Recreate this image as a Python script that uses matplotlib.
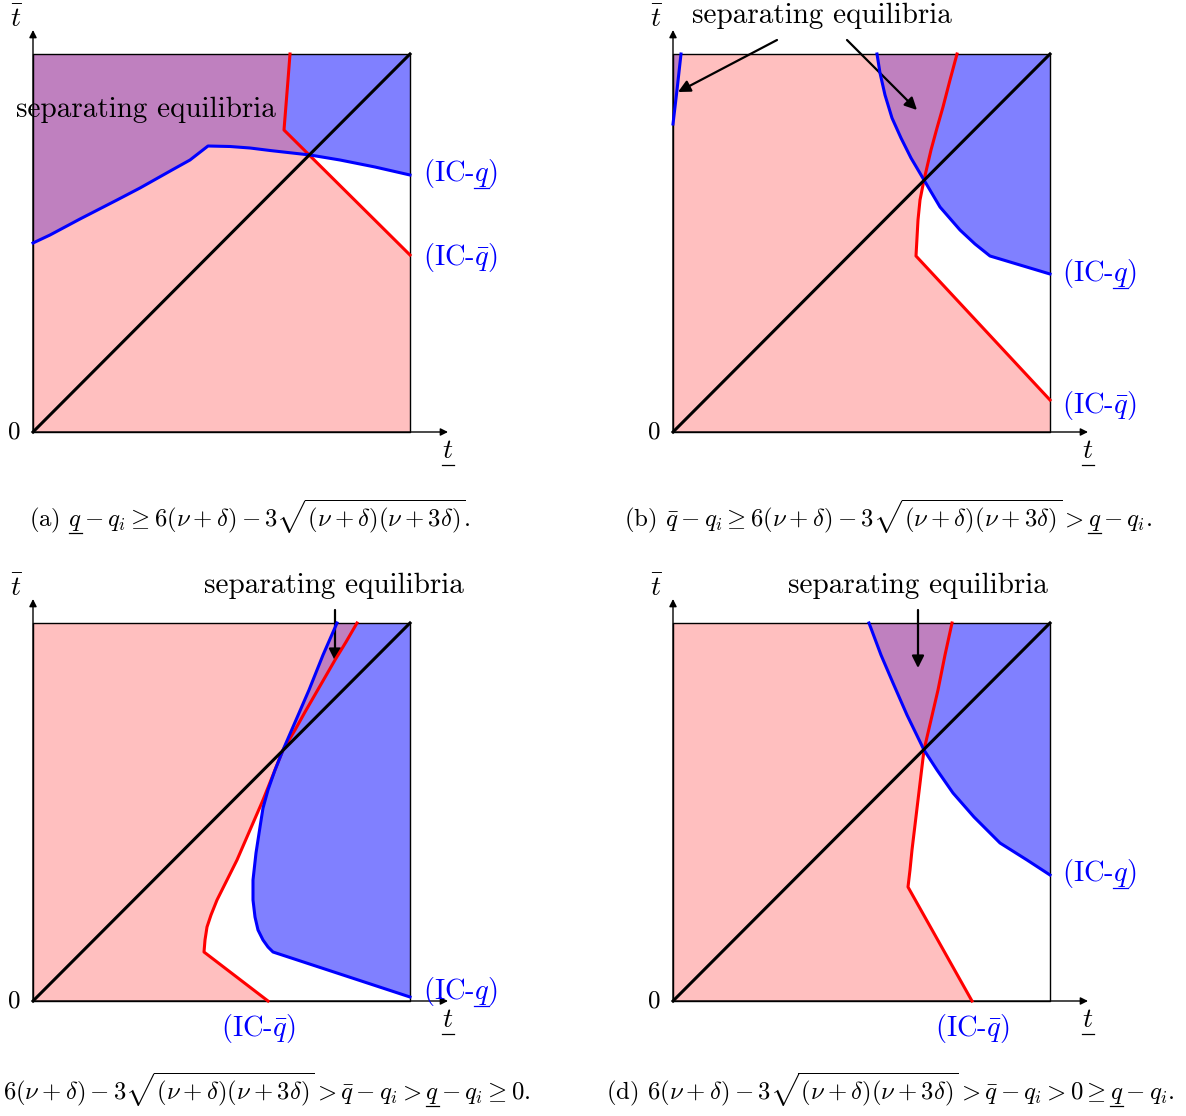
import matplotlib.pyplot as plt
from matplotlib.patches import Polygon
from matplotlib.lines import Line2D
from matplotlib.transforms import IdentityTransform

plt.rcParams['font.family'] = 'serif'
plt.rcParams['font.serif'] = ['cmr10']
plt.rcParams['mathtext.fontset'] = 'cm'
plt.rcParams['axes.unicode_minus'] = False
plt.rcParams['axes.formatter.use_mathtext'] = True

PINK = '#ffbfbf'
BLUE = '#8080ff'
PURPLE = '#bf80bf'

# square is 0..377 (t) by 0..378 (tbar); curves
# (a)
red_a = [(257, 378), (255, 352), (253, 327), (251, 302), (377, 177)]
blue_a = [(0, 189), (17, 197), (47, 213), (84, 232), (107, 244), (139, 262), (157, 272),
          (175, 286), (197, 285.5), (217, 284), (237, 281.5), (277, 277), (307, 272),
          (342, 265), (377, 257)]
# (b)
red_b = [(284, 378), (277, 352), (270, 325), (264, 304), (258, 282), (251, 252),
         (247, 232), (245, 212), (243, 176), (377, 32)]
blue_b = [(204, 378), (207, 359), (212, 337), (219, 314), (228, 294), (238, 274),
          (251, 252), (267, 225), (287, 202), (302, 188), (317, 176), (377, 158)]
blue_b_left = [(0, 308), (4, 342), (8, 378)]
# (c)
red_c = [(324, 378), (313, 359), (302, 341), (287, 315), (272, 289), (262, 271),
         (250, 251), (240, 226), (230, 201), (217, 171), (204, 141), (193, 119),
         (184, 101), (178, 86), (174, 74), (172, 61), (171, 49), (235, 0)]
blue_c = [(304, 378), (290, 346), (276, 311), (263, 281), (250, 251), (242, 231),
          (235, 211), (230, 193), (227, 174), (223, 148), (220, 121), (220, 101),
          (222, 84), (225, 71), (230, 61), (235, 54), (240, 49), (377, 4)]
# (d)
red_d = [(279, 378), (272, 346), (265, 311), (258, 281), (251, 251), (248, 226),
         (245, 201), (242, 176), (239, 151), (237, 131), (235, 114), (299, 0)]
blue_d = [(196, 378), (208, 346), (220, 318), (234, 286), (251, 251), (264, 231),
          (280, 208), (301, 184), (327, 158), (354, 141), (377, 126)]

# text pieces; an underlined letter sits between consecutive pieces
lbl_low = ['(IC-$', '$)']
lbl_bar = '(IC-$\\bar{q}$)'
sep = 'separating equilibria'
root = '6(\\nu+\\delta)-3\\sqrt{(\\nu+\\delta)(\\nu+3\\delta)}'
captions = [
    ['(a) $', '-q_i\\geq ' + root + '.$'],
    ['(b) $\\bar{q}-q_i\\geq ' + root + '>', '-q_i.$'],
    ['$' + root + '>\\bar{q}-q_i>', '-q_i\\geq 0.$'],
    ['(d) $' + root + '>\\bar{q}-q_i>0\\geq ', '-q_i.$'],
]

W, H = 1186, 1116
fig = plt.figure(figsize=(W / 100, H / 100), dpi=100)
renderer = fig.canvas.get_renderer()
PX = IdentityTransform()


def text_width(s, fs):
    t = fig.text(0, 0, s, fontsize=fs)
    w = t.get_window_extent(renderer).width
    t.remove()
    return w


def ul_text(x, y, parts, fs, color='k', ha='left', letter='q', drop=0.25, zorder=6):
    # x, y in output pixels (y = baseline, measured from the bottom)
    s = letter.join(parts)
    t = fig.text(x, y, s, fontsize=fs, color=color, ha=ha, va='baseline',
                 transform=PX, zorder=zorder)
    x0 = t.get_window_extent(renderer).x0
    wl = text_width('$' + letter + '$', fs)
    yl = y - drop * fs * 100 / 72
    for i in range(1, len(parts)):
        right = x0 + text_width(letter.join(parts[:i]) + letter + '$', fs)
        fig.add_artist(Line2D([right - wl, right], [yl, yl], transform=PX, color=color,
                              lw=0.9, zorder=zorder))


def label(ax, x, y, parts, fs, color, ha, letter='q', drop=0.25):
    px, py = ax.transData.transform((x, y))
    ul_text(px, py, parts, fs, color, ha, letter, drop)


def panel(left, top, red, blue, blue_left=None):
    ax = fig.add_axes([left / W, 1 - (top + 378) / H, 377 / W, 378 / H])
    ax.set_xlim(0, 377)
    ax.set_ylim(0, 378)
    ax.axis('off')

    pink = Polygon(red + [(red[-1][0], 0), (0, 0), (0, 378)], closed=True,
                   fc=PINK, ec='none', zorder=1)
    ax.add_patch(pink)
    regions = [blue + [(377, 378), (blue[0][0], 378)]]
    if blue_left is not None:
        regions.append(blue_left + [(0, 378)])
    for r in regions:
        ax.add_patch(Polygon(r, closed=True, fc=BLUE, ec='none', zorder=1))
        p = Polygon(r, closed=True, fc=PURPLE, ec='none', zorder=2)
        ax.add_patch(p)
        p.set_clip_path(pink)

    ax.plot([0, 377, 377, 0, 0], [0, 0, 378, 378, 0], color='k', lw=1, zorder=3,
            clip_on=False)
    ax.plot([0, 377], [0, 378], color='k', lw=2.2, zorder=5, clip_on=False)
    ax.plot(*zip(*red), color='red', lw=2.2, zorder=4, clip_on=False)
    ax.plot(*zip(*blue), color='blue', lw=2.2, zorder=4, clip_on=False)
    if blue_left is not None:
        ax.plot(*zip(*blue_left), color='blue', lw=2.2, zorder=4, clip_on=False)

    ap = dict(arrowstyle='-|>', color='k', lw=1, mutation_scale=11, shrinkA=0, shrinkB=0)
    ax.annotate('', xy=(415, 0), xytext=(0, 0), arrowprops=ap, annotation_clip=False)
    ax.annotate('', xy=(0, 402), xytext=(0, 0), arrowprops=ap, annotation_clip=False)
    ax.text(-16, 412, '$\\bar{t}$', fontsize=20, ha='center', va='center')
    ax.text(-19, 0, '0', fontsize=18, ha='center', va='center')
    label(ax, 415, -26, ['$', '$'], 20, 'k', 'center', letter='t', drop=0.26)
    return ax


def sep_arrow(ax, xy, xytext):
    ax.annotate('', xy=xy, xytext=xytext, annotation_clip=False,
                arrowprops=dict(arrowstyle='-|>', color='k', lw=1.6, mutation_scale=18,
                                shrinkA=0, shrinkB=0))


FS_SEP = 21
FS_IC = 20.5

# (a)
ax = panel(33, 54, red_a, blue_a)
ax.text(113, 322, sep, fontsize=FS_SEP, ha='center', va='center', zorder=6)
label(ax, 390, 251, lbl_low, FS_IC, 'blue', 'left')
ax.text(390, 167, lbl_bar, fontsize=FS_IC, color='blue', ha='left', va='baseline')

# (b)
ax = panel(673, 54, red_b, blue_b, blue_b_left)
ax.text(149, 416, sep, fontsize=FS_SEP, ha='center', va='center')
sep_arrow(ax, (5, 340), (104, 392))
sep_arrow(ax, (244, 322), (174, 392))
label(ax, 389, 151, lbl_low, FS_IC, 'blue', 'left')
ax.text(389, 19, lbl_bar, fontsize=FS_IC, color='blue', ha='left', va='baseline')

# (c)
ax = panel(33, 623, red_c, blue_c)
ax.text(301, 415, sep, fontsize=FS_SEP, ha='center', va='center')
sep_arrow(ax, (302, 340), (302, 391))
ax.text(225, -35, lbl_bar, fontsize=FS_IC, color='blue', ha='center', va='baseline')
label(ax, 390, 2, lbl_low, FS_IC, 'blue', 'left')

# (d)
ax = panel(673, 623, red_d, blue_d)
ax.text(245, 415, sep, fontsize=FS_SEP, ha='center', va='center')
sep_arrow(ax, (245, 333), (245, 391))
label(ax, 389, 120, lbl_low, FS_IC, 'blue', 'left')
ax.text(299, -35, lbl_bar, fontsize=FS_IC, color='blue', ha='center', va='baseline')

# captions (centre x, baseline y from the top, in pixels)
for (cx, cy), parts in zip([(250, 527), (888, 527), (267, 1100), (890, 1100)], captions):
    ul_text(cx, H - cy, parts, 17.8, 'k', 'center')

fig.savefig('out.png', dpi=100)
